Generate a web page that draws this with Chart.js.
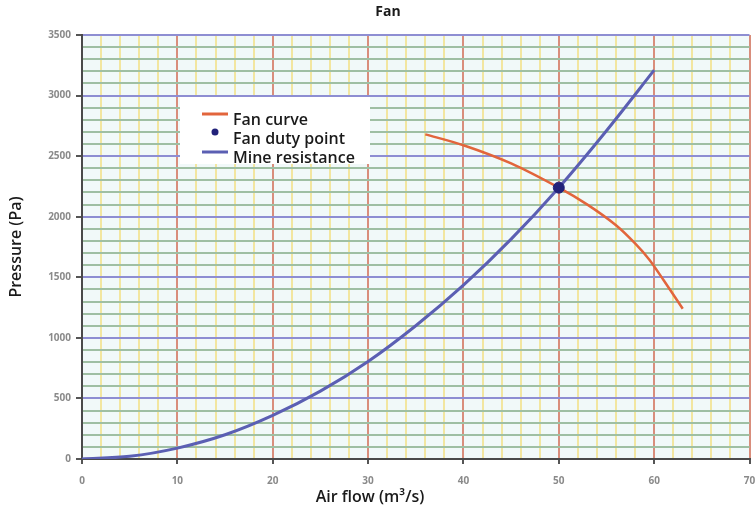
<!DOCTYPE html>
<html>
<head>
<meta charset="utf-8">
<script src="https://cdn.jsdelivr.net/npm/chart.js@4.4.1/dist/chart.umd.min.js"></script>
<style>
    html, body { margin: 0; padding: 0; background: #ffffff; }
    #wrap { width: 756px; height: 511px; }
</style>
</head>
<body>
<div id="wrap"><canvas id="fanChart" width="756" height="511"></canvas></div>
<script>
// values
const fanFlow = [36, 40, 45, 50, 53, 56, 58, 59.5, 61, 63];
const fanPressure = [2680, 2590, 2440, 2240, 2100, 1930, 1780, 1645, 1475, 1240];
const mineFlow = [0, 5, 10, 15, 20, 25, 30, 35, 40, 45, 50, 55, 60];
const minePressure = [0, 22, 90, 200, 360, 560, 805, 1100, 1435, 1815, 2240, 2710, 3210];
const dutyFlow = [50];
const dutyPressure = [2240];
const xTickLabels = [0, 10, 20, 30, 40, 50, 60, 70];
const yTickLabels = [0, 500, 1000, 1500, 2000, 2500, 3000, 3500];

const FONT = "'Open Sans', Lato, sans-serif";
const FAN_COLOR = '#e2653c';
const MINE_COLOR = '#5b5fb3';
const DUTY_COLOR = '#22227a';

const toPoints = (xs, ys) => xs.map((x, i) => ({x: x, y: ys[i]}));

// plot background + title, x axis title, legend box
const decorPlugin = {
    id: 'decor',
    beforeDraw(chart) {
        const a = chart.chartArea;
        const ctx = chart.ctx;
        ctx.save();
        ctx.fillStyle = '#f1f9f9';
        ctx.fillRect(a.left, a.top, a.right - a.left, a.bottom - a.top);
        ctx.restore();
    },
    afterDraw(chart) {
        const ctx = chart.ctx;
        ctx.save();
        ctx.fillStyle = '#1a1a1a';
        ctx.textAlign = 'center';
        ctx.textBaseline = 'middle';
        ctx.font = "bold 14px " + FONT;
        ctx.fillText('Fan', 388, 12);
        ctx.font = "600 16px " + FONT;
        ctx.fillText('Air flow (m\u00b3/s)', 370, 497);

        // legend
        ctx.fillStyle = '#ffffff';
        ctx.fillRect(180, 97, 190, 67);
        const items = chart.data.datasets;
        const rows = [120, 139, 158];
        ctx.font = "600 16px " + FONT;
        ctx.textAlign = 'left';
        items.forEach((ds, i) => {
            const y = rows[i];
            ctx.strokeStyle = ds.borderColor;
            ctx.fillStyle = ds.backgroundColor;
            if (ds.showLine) {
                ctx.lineWidth = 3;
                ctx.beginPath();
                ctx.moveTo(202, y - 6);
                ctx.lineTo(228, y - 6);
                ctx.stroke();
            } else {
                ctx.beginPath();
                ctx.arc(215, y - 7, 3.5, 0, Math.PI * 2);
                ctx.fill();
            }
            ctx.fillStyle = '#1a1a1a';
            ctx.fillText(ds.label, 233, y);
        });
        ctx.restore();
    }
};

new Chart(document.getElementById('fanChart').getContext('2d'), {
    type: 'scatter',
    data: {
        datasets: [
            {
                label: 'Fan curve',
                data: toPoints(fanFlow, fanPressure),
                showLine: true,
                borderColor: FAN_COLOR,
                backgroundColor: FAN_COLOR,
                borderWidth: 2.5,
                pointRadius: 0,
                tension: 0.3,
                order: 2
            },
            {
                label: 'Fan duty point',
                data: toPoints(dutyFlow, dutyPressure),
                showLine: false,
                borderColor: DUTY_COLOR,
                backgroundColor: DUTY_COLOR,
                pointRadius: 5.5,
                order: 0
            },
            {
                label: 'Mine resistance',
                data: toPoints(mineFlow, minePressure),
                showLine: true,
                borderColor: MINE_COLOR,
                backgroundColor: MINE_COLOR,
                borderWidth: 3,
                pointRadius: 0,
                cubicInterpolationMode: 'monotone',
                order: 1
            }
        ]
    },
    options: {
        responsive: false,
        animation: false,
        layout: {padding: {top: 35, right: 0, left: 0, bottom: 0}},
        plugins: {
            legend: {display: false},
            title: {display: false},
            tooltip: {enabled: false}
        },
        scales: {
            x: {
                type: 'linear',
                min: 0,
                max: 70,
                afterFit(scale) {
                    scale.height = 52;
                    scale.paddingLeft = 0;
                    scale.paddingRight = 0;
                },
                border: {display: true, color: '#4a4a4a', width: 2},
                grid: {
                    color: (c) => (c.tick && c.tick.value % 10 === 0) ? '#d98e7c' : '#f2e6a0',
                    lineWidth: 2,
                    tickLength: 5,
                    tickColor: (c) => (c.tick && c.tick.value % 10 === 0) ? '#555555' : 'rgba(0,0,0,0)'
                },
                ticks: {
                    stepSize: 2,
                    autoSkip: false,
                    maxRotation: 0,
                    padding: 11,
                    color: '#8a8a8a',
                    font: {family: FONT, size: 10, weight: 'bold'},
                    callback: (v) => xTickLabels.includes(v) ? String(v) : ''
                }
            },
            y: {
                type: 'linear',
                min: 0,
                max: 3500,
                afterFit(scale) {
                    scale.width = 82;
                },
                border: {display: true, color: '#4a4a4a', width: 2},
                grid: {
                    color: (c) => (c.tick && c.tick.value % 500 === 0) ? '#8e8ed2' : '#9fbfa3',
                    lineWidth: 2,
                    tickLength: 6,
                    tickColor: (c) => (c.tick && c.tick.value % 500 === 0) ? '#555555' : 'rgba(0,0,0,0)'
                },
                ticks: {
                    stepSize: 100,
                    autoSkip: false,
                    maxTicksLimit: 100,
                    padding: 5,
                    color: '#8a8a8a',
                    font: {family: FONT, size: 10, weight: 'bold'},
                    callback: (v) => yTickLabels.includes(v) ? String(v) : ''
                },
                title: {
                    display: true,
                    text: 'Pressure (Pa)',
                    color: '#1a1a1a',
                    font: {family: FONT, size: 16, weight: '600'},
                    padding: {top: 7, bottom: 0}
                }
            }
        }
    },
    plugins: [decorPlugin]
});
</script>
</body>
</html>
